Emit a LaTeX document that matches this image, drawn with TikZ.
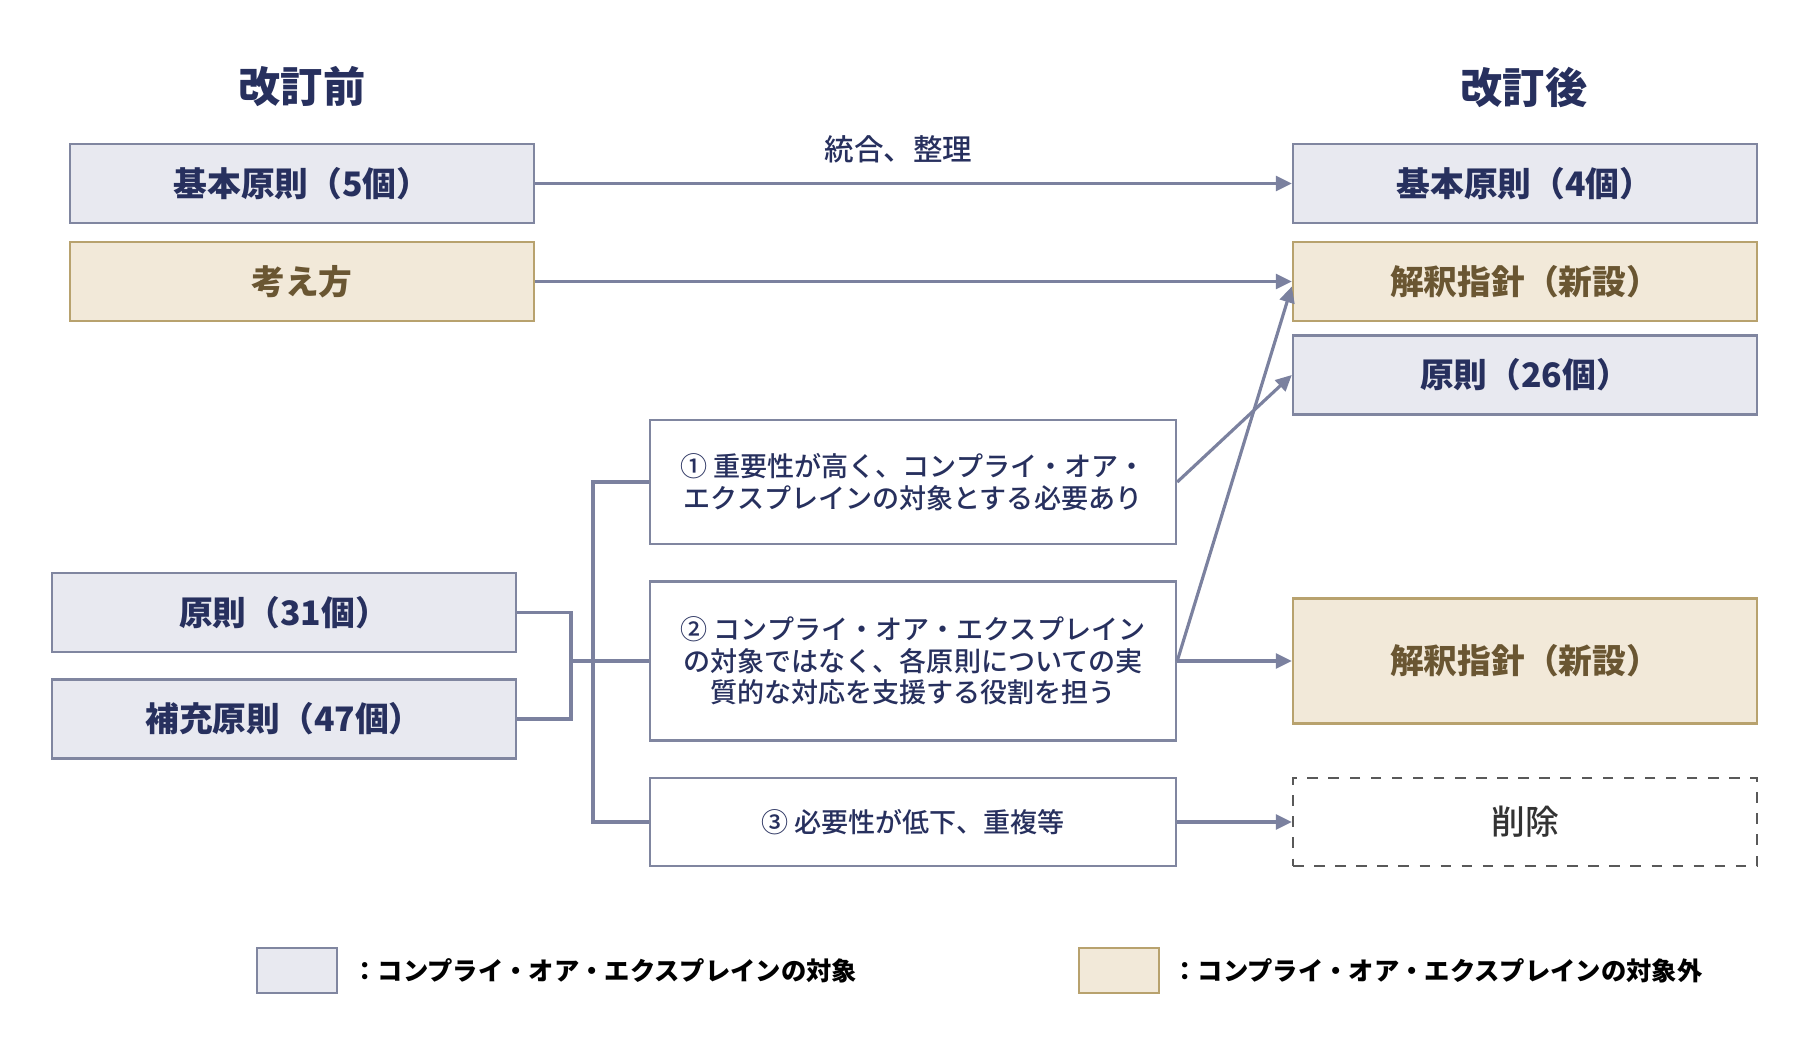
\documentclass[tikz,border=0pt]{standalone}
\usepackage{fontspec}
\setmainfont{Noto Sans CJK JP}
\newfontfamily\jpmed{Noto Sans CJK JP Medium}
\usetikzlibrary{arrows.meta}
\definecolor{linec}{HTML}{7B819F}
\definecolor{bfill}{HTML}{E8E9F0}
\definecolor{bdraw}{HTML}{8086A0}
\definecolor{navy}{HTML}{27305E}
\definecolor{tfill}{HTML}{F2E9D9}
\definecolor{tdraw}{HTML}{B8A26E}
\definecolor{brown}{HTML}{6A5632}
\tikzset{
  blbox/.style={draw=bdraw, fill=bfill, line width=0.7pt, minimum width=4.64cm, minimum height=0.79cm, text=navy, font=\fontsize{9.6}{11}\selectfont\bfseries},
  tnbox/.style={draw=tdraw, fill=tfill, line width=0.7pt, minimum width=4.64cm, minimum height=0.79cm, text=brown, font=\fontsize{9.6}{11}\selectfont\bfseries},
  midbox/.style={draw=bdraw, fill=white, line width=0.7pt, minimum width=5.26cm, align=center, text=navy, font=\fontsize{7.7}{9}\selectfont\jpmed},
  delbox/.style={draw=black!65, dashed, line width=0.7pt, minimum width=4.64cm, minimum height=0.88cm, text=black!80, font=\fontsize{9.6}{11}\selectfont\jpmed},
  ttl/.style={text=navy, font=\fontsize{12}{14}\selectfont\bfseries},
  conn/.style={draw=linec, line width=0.9pt},
  arr/.style={conn, -{Triangle[length=1.6mm,width=1.5mm]}},
  legtxt/.style={anchor=west, font=\fontsize{7.2}{9}\selectfont\bfseries}
}

\begin{document}
\begin{tikzpicture}
  \useasboundingbox (0,0) rectangle (18.10,10.47);

  % titles
  \node[ttl] (before) at (3.02,9.60) {改訂前};
  \node[ttl] (after) at (15.24,9.60) {改訂後};

  % left column
  \node[blbox] (kihon5) at (3.02,8.635) {基本原則（5個）};
  \node[tnbox] (kangae) at (3.02,7.655) {考え方};
  \node[blbox] (gensoku31) at (2.84,4.345) {原則（31個）};
  \node[blbox] (hoju47) at (2.84,3.28) {補充原則（47個）};

  % middle column
  \node[midbox, minimum height=1.24cm] (case1) at (9.13,5.65) {① 重要性が高く、コンプライ・オア・\\エクスプレインの対象とする必要あり};
  \node[midbox, minimum height=1.59cm] (case2) at (9.13,3.86) {② コンプライ・オア・エクスプレイン\\の対象ではなく、各原則についての実\\質的な対応を支援する役割を担う};
  \node[midbox, minimum height=0.88cm] (case3) at (9.13,2.25) {③ 必要性が低下、重複等};

  % right column
  \node[blbox] (kihon4) at (15.25,8.635) {基本原則（4個）};
  \node[tnbox] (shishin1) at (15.25,7.655) {解釈指針（新設）};
  \node[blbox] (gensoku26) at (15.25,6.72) {原則（26個）};
  \node[tnbox, minimum height=1.25cm] (shishin2) at (15.25,3.86) {解釈指針（新設）};
  \node[delbox] (sakujo) at (15.25,2.25) {削除};

  % bracket
  \coordinate (join) at (5.71,3.86);
  \coordinate (split) at (5.93,3.86);
  \draw[conn] (gensoku31.east) -| (join) |- (hoju47.east);
  \draw[conn] (join) -- (case2.west);
  \draw[conn] (case1.west) -| (split) |- (case3.west);

  % arrows
  \draw[arr] (kihon5.east) -- node[above=2pt, text=navy, font=\fontsize{8.4}{10}\selectfont\jpmed, pos=0.48] (togo) {統合、整理} (kihon4.west);
  \draw[arr] (kangae.east) -- (shishin1.west);
  \draw[arr] (case1.east) -- (gensoku26.west);
  \draw[arr] (case2.east) -- ([yshift=-0.05cm]shishin1.west);
  \draw[arr] (case2.east) -- (shishin2.west);
  \draw[arr] (case3.east) -- (sakujo.west);

  % legend
  \node[draw=bdraw, fill=bfill, line width=0.7pt, minimum width=0.80cm, minimum height=0.45cm] (legb) at (2.97,0.765) {};
  \node[legtxt] (legbt) at (3.40,0.765) {：コンプライ・オア・エクスプレインの対象};
  \node[draw=tdraw, fill=tfill, line width=0.7pt, minimum width=0.80cm, minimum height=0.45cm] (legt) at (11.19,0.765) {};
  \node[legtxt] (legtt) at (11.60,0.765) {：コンプライ・オア・エクスプレインの対象外};
\end{tikzpicture}
\end{document}
